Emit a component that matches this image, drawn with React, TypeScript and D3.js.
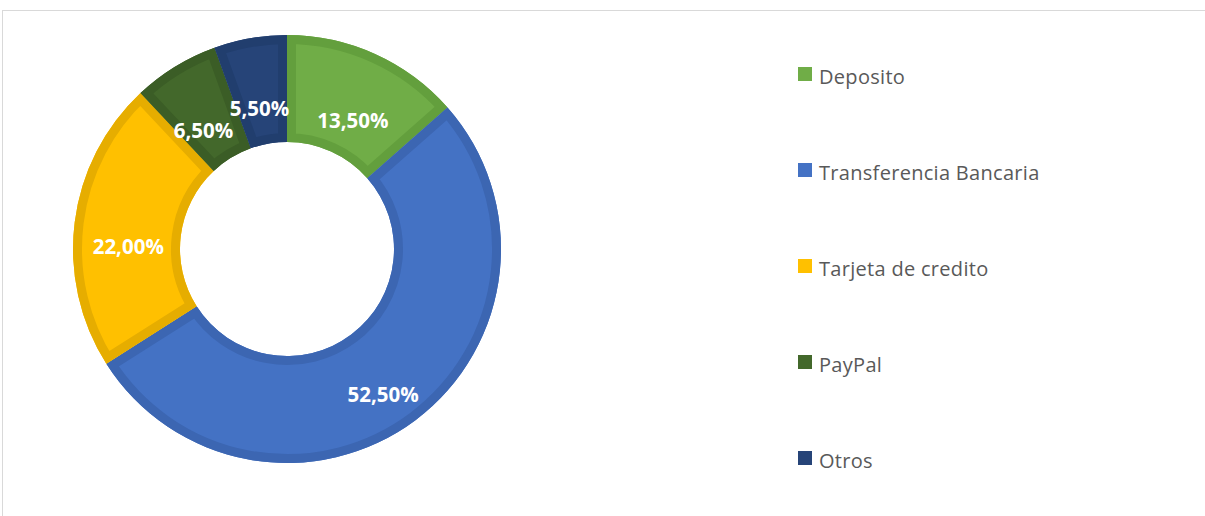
import React from "react";
import * as d3 from "d3";

const categories = ["Deposito", "Transferencia Bancaria", "Tarjeta de credito", "PayPal", "Otros"];
const values = [13.5, 52.5, 22.0, 6.5, 5.5];
const labels = ["13,50%", "52,50%", "22,00%", "6,50%", "5,50%"];
const colors = ["#70AD47", "#4472C4", "#FFC000", "#43682B", "#264478"];
const edgeColors = ["#639F3D", "#3C66B2", "#E6AD00", "#3B5D26", "#213E6E"];

const width = 1205;
const height = 516;
const cx = 287;
const cy = 249;
const outerR = 214;
const innerR = 107;

const App = () => {
  const pie = d3.pie<number>().sort(null).value((d) => d);
  const arcs = pie(values);
  const arc = d3.arc<d3.PieArcDatum<number>>().innerRadius(innerR).outerRadius(outerR);
  const labelArc = d3
    .arc<d3.PieArcDatum<number>>()
    .innerRadius(160)
    .outerRadius(160);

  const legendY = d3.scalePoint<string>().domain(categories).range([76, 460]);

  return (
    <svg
      width={width}
      height={height}
      style={{ position: "absolute", left: 0, top: 0, fontFamily: "'Open Sans', sans-serif" }}
    >
      <rect x={0} y={0} width={width} height={height} fill="#ffffff" />
      <rect x={2.5} y={10.5} width={width + 10} height={height + 10} fill="none" stroke="#d9d9d9" />
      <defs>
        {arcs.map((a, i) => (
          <clipPath id={`clip${i}`} key={i}>
            <path d={arc(a) || ""} />
          </clipPath>
        ))}
      </defs>
      <g transform={`translate(${cx},${cy})`}>
        {arcs.map((a, i) => (
          <g key={i}>
            <path d={arc(a) || ""} fill={colors[i]} />
            <path
              d={arc(a) || ""}
              fill="none"
              stroke={edgeColors[i]}
              strokeWidth={18}
              strokeLinejoin="miter"
              clipPath={`url(#clip${i})`}
            />
          </g>
        ))}
        {arcs.map((a, i) => {
          const [x, y] = labelArc.centroid(a);
          return (
            <text
              key={i}
              x={x}
              y={y + 17}
              textAnchor="middle"
              dominantBaseline="central"
              fill="#ffffff"
              fontWeight="bold"
              fontSize={20.5}
            >
              {labels[i]}
            </text>
          );
        })}
      </g>
      <g>
        {categories.map((c, i) => (
          <g key={c} transform={`translate(798,${legendY(c)})`}>
            <rect x={0} y={-9} width={14} height={14} fill={colors[i]} />
            <text x={21} y={0} dominantBaseline="central" fontSize={20} letterSpacing={0.3} fill="#595959">
              {c}
            </text>
          </g>
        ))}
      </g>
    </svg>
  );
};

export default App;
